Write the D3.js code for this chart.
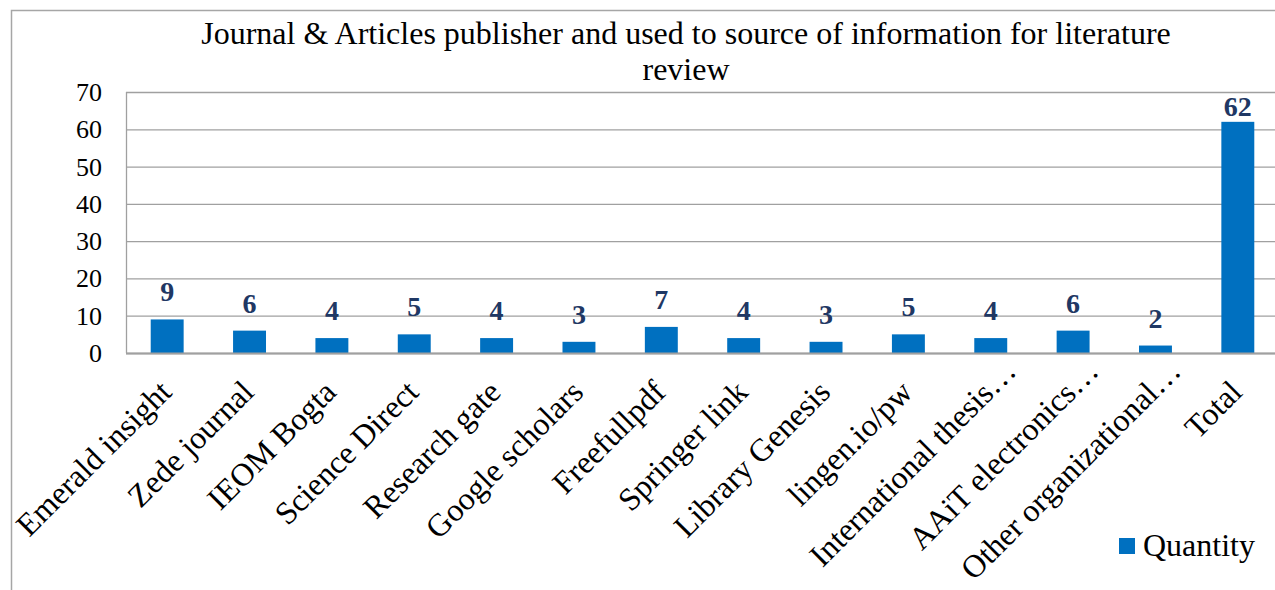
<!DOCTYPE html>
<html>
<head>
<meta charset="utf-8">
<script src="https://cdn.jsdelivr.net/npm/d3@7"></script>
<style>
  body { margin: 0; background: #fff; }
  text { font-family: "Liberation Serif", "Times New Roman", serif; }
</style>
</head>
<body>
<svg id="chart" width="1275" height="590"></svg>
<script>
// data
const categories = [
  'Emerald insight', 'Zede journal', 'IEOM Bogta', 'Science Direct',
  'Research gate', 'Google scholars', 'Freefullpdf', 'Springer link',
  'Library Genesis', 'lingen.io/pw', 'International thesis\u2026',
  'AAiT electronics\u2026', 'Other organizational\u2026', 'Total'
];
const quantity = [9, 6, 4, 5, 4, 3, 7, 4, 3, 5, 4, 6, 2, 62];
const yTicks = [0, 10, 20, 30, 40, 50, 60, 70];

const svg = d3.select('#chart');

const plotLeft = 126, plotRight = 1279, plotTop = 92, plotBottom = 353;

// outer frame
svg.append('rect')
  .attr('x', 11.5).attr('y', 10.5)
  .attr('width', 1275).attr('height', 600)
  .attr('fill', 'none').attr('stroke', '#a6a6a6').attr('stroke-width', 1.5);

// title
const title = svg.append('text')
  .attr('text-anchor', 'middle')
  .attr('font-size', 32)
  .attr('fill', '#000');
title.append('tspan').attr('x', 686).attr('y', 44)
  .text('Journal & Articles publisher and used to source of information for literature');
title.append('tspan').attr('x', 686).attr('y', 80).text('review');

const x = d3.scaleBand()
  .domain(categories)
  .range([plotLeft, plotRight])
  .paddingInner(0.6)
  .paddingOuter(0.3);

const y = d3.scaleLinear()
  .domain([0, 70])
  .range([plotBottom, plotTop]);

// grid lines
svg.append('g')
  .attr('transform', `translate(${plotLeft},0)`)
  .call(d3.axisLeft(y).tickValues(yTicks).tickSize(-(plotRight - plotLeft)).tickFormat(''))
  .call(g => g.select('.domain').remove())
  .call(g => g.selectAll('line').attr('stroke', '#a0a0a0').attr('stroke-width', 1.3));

// left axis line
svg.append('line')
  .attr('x1', plotLeft + 0.5).attr('x2', plotLeft + 0.5)
  .attr('y1', plotTop).attr('y2', plotBottom)
  .attr('stroke', '#a0a0a0').attr('stroke-width', 1.3);

// y tick labels
svg.append('g')
  .selectAll('text')
  .data(yTicks)
  .join('text')
  .attr('x', 102)
  .attr('y', d => y(d) + 9)
  .attr('text-anchor', 'end')
  .attr('font-size', 26)
  .text(d => d);

// bars
svg.append('g')
  .selectAll('rect')
  .data(quantity)
  .join('rect')
  .attr('x', (d, i) => x(categories[i]))
  .attr('y', d => y(d))
  .attr('width', x.bandwidth())
  .attr('height', d => plotBottom - y(d))
  .attr('fill', '#0070c0');

// bottom axis line
svg.append('line')
  .attr('x1', plotLeft).attr('x2', plotRight)
  .attr('y1', plotBottom + 0.5).attr('y2', plotBottom + 0.5)
  .attr('stroke', '#a0a0a0').attr('stroke-width', 2);

// value labels (kept inside the plot area like Excel does)
svg.append('g')
  .selectAll('text')
  .data(quantity)
  .join('text')
  .attr('x', (d, i) => x(categories[i]) + x.bandwidth() / 2)
  .attr('y', d => Math.max(y(d) - 18, plotTop + 24))
  .attr('text-anchor', 'middle')
  .attr('font-size', 28)
  .attr('font-weight', 'bold')
  .attr('fill', '#1f3864')
  .text(d => d);

// category labels, rotated
svg.append('g')
  .selectAll('text')
  .data(categories)
  .join('text')
  .attr('transform', d => `translate(${x(d) + x.bandwidth() / 2 + 6},${plotBottom + 41}) rotate(-45)`)
  .attr('dx', d => d.endsWith('\u2026') ? 30 : 0)
  .attr('text-anchor', 'end')
  .attr('font-size', 32)
  .text(d => d);

// legend
svg.append('rect')
  .attr('x', 1119).attr('y', 538)
  .attr('width', 16).attr('height', 16)
  .attr('fill', '#0070c0');
svg.append('text')
  .attr('x', 1143).attr('y', 556)
  .attr('font-size', 32)
  .text('Quantity');
</script>
</body>
</html>
